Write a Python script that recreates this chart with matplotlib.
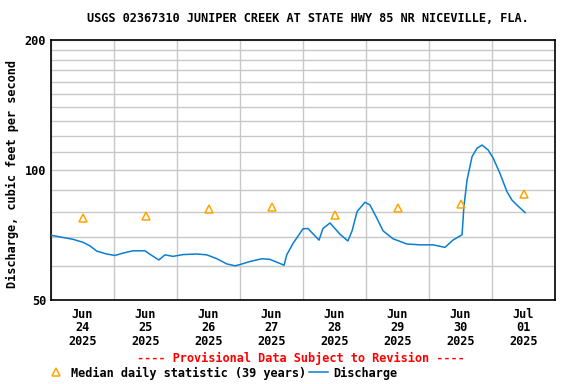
import datetime as dt
import matplotlib
matplotlib.use("Agg")
import matplotlib.pyplot as plt
import matplotlib.dates as mdates
from matplotlib.ticker import FixedLocator, NullFormatter
from matplotlib.lines import Line2D

plt.rcParams['font.family'] = ['DejaVu Sans Mono']
plt.rcParams['font.weight'] = 'bold'

# ---------------- data
inicio = dt.datetime(2025, 6, 24)
horas = [0, 3.4, 8.4, 12.2, 14.9, 17.4, 21.2, 24.4, 27.4, 31.2, 35.8, 37.7, 41.1, 43.4,
         46.5, 50.3, 55.6, 59.4, 63.2, 67.0, 70.1, 72.0, 75.8, 80.4, 83.4, 86.5, 88.8,
         89.8, 92.2, 96.0, 97.9, 102.1, 103.6, 106.3, 110.1, 113.1, 114.7, 116.6, 119.6,
         121.5, 124.2, 126.5, 130.3, 135.6, 140.6, 145.5, 150.1, 153.1, 156.6, 157.3,
         158.5, 160.4, 162.3, 164.2, 166.5, 168.4, 171.0, 173.7, 175.6, 177.9, 180.6]
caudal = [70.6, 70.0, 69.1, 68.0, 66.7, 64.9, 63.9, 63.4, 64.2, 65.0, 65.0, 63.8, 61.9, 63.6,
          63.1, 63.7, 63.9, 63.6, 62.3, 60.6, 60.0, 60.4, 61.4, 62.3, 62.1, 61.0, 60.2,
          63.6, 67.6, 73.1, 73.2, 68.8, 73.2, 75.4, 71.0, 68.5, 72.3, 80.1, 84.2,
          83.0, 77.2, 72.3, 69.3, 67.4, 67.1, 67.1, 66.2, 68.8, 70.8, 82.3,
          94.8, 107.4, 112.3, 114.2, 111.3, 106.7, 98.3, 89.1, 85.2, 82.5, 79.7]
dias_mediana = ["2025-06-24", "2025-06-25", "2025-06-26", "2025-06-27",
                "2025-06-28", "2025-06-29", "2025-06-30", "2025-07-01"]
mediana = [77.4, 78.3, 81.4, 82.3, 78.5, 81.5, 83.2, 88.2]

titulo = "USGS 02367310 JUNIPER CREEK AT STATE HWY 85 NR NICEVILLE, FLA."
etiquetaY = "Discharge, cubic feet per second"

# ---------------- plot
tiempos = [inicio + dt.timedelta(hours=h) for h in horas]
tiemposMediana = [dt.datetime.strptime(d, "%Y-%m-%d") + dt.timedelta(hours=12) for d in dias_mediana]

tam = 8.6
fig = plt.figure(figsize=(5.76, 3.84), dpi=100)
ax = fig.add_axes([51 / 576, 1 - 300 / 384, 504 / 576, 260 / 384])

ax.plot(tiempos, caudal, color="#0a7fd0", linewidth=1.1, zorder=3)
ax.plot(tiemposMediana, mediana, linestyle="none", marker="^", markersize=6.2,
        markerfacecolor="none", markeredgecolor="#ffa500", markeredgewidth=1.1, zorder=4)

ax.set_yscale("log")
ax.set_ylim(50, 200)
ax.yaxis.set_major_locator(FixedLocator([50, 100, 200]))
ax.set_yticklabels(["50", "100", "200"])
ax.yaxis.set_minor_locator(FixedLocator(list(range(60, 200, 10))))
ax.yaxis.set_minor_formatter(NullFormatter())

ax.set_xlim(inicio, inicio + dt.timedelta(days=8))
ax.xaxis.set_major_locator(mdates.HourLocator(byhour=12))
ax.xaxis.set_major_formatter(mdates.DateFormatter("%b\n%d\n%Y"))
ax.xaxis.set_minor_locator(mdates.DayLocator())

ax.grid(which="minor", axis="both", color="#c8c8c8", linewidth=1)
ax.grid(which="major", axis="y", color="#c8c8c8", linewidth=1)
ax.set_axisbelow(True)
ax.tick_params(which="both", length=0, labelsize=tam)
ax.tick_params(axis="x", pad=5.5)
for etiqueta in ax.get_xticklabels():
    etiqueta.set_linespacing(1.05)
for s in ax.spines.values():
    s.set_linewidth(1.2)

fig.text(308 / 576, 1 - 18 / 384, titulo, ha="center", va="center", fontsize=tam)
fig.text(12 / 576, 1 - 174 / 384, etiquetaY, rotation=90, ha="center", va="center", fontsize=tam)
fig.text(301 / 576, 1 - 358 / 384, "---- Provisional Data Subject to Revision ----",
         ha="center", va="center", fontsize=tam, color="red")

manejadores = [Line2D([], [], linestyle="none", marker="^", markersize=6.2, markerfacecolor="none",
                      markeredgecolor="#ffa500", markeredgewidth=1.1),
               Line2D([], [], color="#0a7fd0", linewidth=1.1)]
fig.legend(manejadores, ["Median daily statistic (39 years)", "Discharge"], loc="center left",
           bbox_to_anchor=(47 / 576, 1 - 373 / 384), ncol=2, frameon=False, fontsize=tam,
           handlelength=1.55, handletextpad=0.45, columnspacing=0.25, borderpad=0, borderaxespad=0)

fig.savefig("out.png", dpi=100)
